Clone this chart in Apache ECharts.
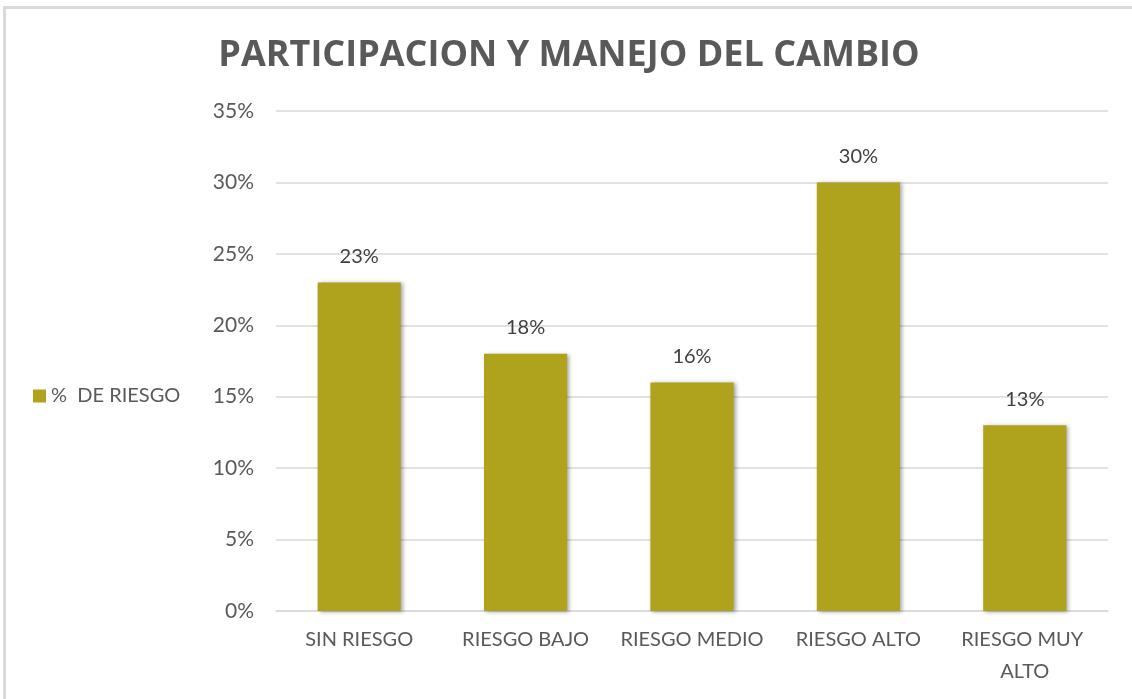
<!DOCTYPE html>
<html>
<head>
<meta charset="utf-8">
<script src="https://cdn.jsdelivr.net/npm/echarts@6/dist/echarts.min.js"></script>
<style>
  html, body { margin: 0; padding: 0; background: #fff; }
  #chart { position: absolute; left: 3px; top: 6px; width: 1129px; height: 693px;
           border-top: 3px solid #d9d9d9; border-left: 3px solid #d9d9d9; box-sizing: border-box; }
</style>
</head>
<body>
<div id="chart"></div>
<script>
// datos del grafico
var categorias = ['SIN RIESGO', 'RIESGO BAJO', 'RIESGO MEDIO', 'RIESGO ALTO', 'RIESGO MUY ALTO'];
var riesgo = [23, 18, 16, 30, 13];
var serieNombre = '%  DE RIESGO';
var titulo = 'PARTICIPACION Y MANEJO DEL CAMBIO';

var chart = echarts.init(document.getElementById('chart'));
var option = {
    animation: false,
    textStyle: { fontFamily: 'Lato' },
    title: {
        text: titulo,
        left: 'center',
        top: 24,
        textStyle: { fontFamily: 'Open Sans', fontSize: 36, fontWeight: 'bold', color: '#595959' }
    },
    legend: {
        data: [serieNombre],
        orient: 'vertical',
        left: 22,
        top: 372,
        icon: 'rect',
        itemWidth: 13,
        itemHeight: 13,
        itemGap: 8,
        textStyle: { fontFamily: 'Lato', fontSize: 20, color: '#595959' }
    },
    grid: { left: 270, right: 24, top: 102, bottom: 88 },
    xAxis: {
        type: 'category',
        data: categorias,
        axisLine: { lineStyle: { color: '#d9d9d9', width: 1.5 } },
        axisTick: { show: false },
        axisLabel: {
            fontFamily: 'Lato', fontSize: 20, color: '#595959', margin: 13,
            width: 160, overflow: 'break', lineHeight: 32, interval: 0
        }
    },
    yAxis: {
        type: 'value',
        min: 0, max: 35, interval: 5,
        axisLine: { show: false },
        axisTick: { show: false },
        splitLine: { lineStyle: { color: '#d9d9d9', width: 1.5 } },
        axisLabel: {
            fontFamily: 'Lato', fontSize: 21, color: '#595959', margin: 22,
            formatter: '{value}%'
        }
    },
    series: [{
        name: serieNombre,
        type: 'bar',
        data: riesgo,
        barWidth: '50%',
        itemStyle: {
            color: '#afa21d',
            shadowColor: 'rgba(0,0,0,0.35)',
            shadowBlur: 4,
            shadowOffsetX: 2,
            shadowOffsetY: 1
        },
        label: {
            show: true,
            position: 'top',
            distance: 16,
            formatter: '{c}%',
            fontFamily: 'Lato', fontSize: 20, color: '#404040'
        }
    }]
};
chart.setOption(option);
</script>
</body>
</html>
